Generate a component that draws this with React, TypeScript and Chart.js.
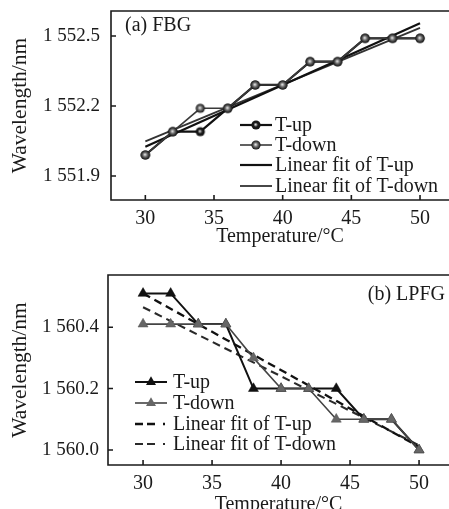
import React, { useEffect, useRef } from 'react';
import { Chart, registerables } from 'chart.js';
Chart.register(...registerables);

// ---------- data ----------
const temps = [30, 32, 34, 36, 38, 40, 42, 44, 46, 48, 50];
const fitTemps = [30, 50];
const xTicks = [30, 35, 40, 45, 50];

const fbgUp = [1551.99, 1552.09, 1552.09, 1552.19, 1552.29, 1552.29, 1552.39, 1552.39, 1552.49, 1552.49, 1552.49];
const fbgDown = [1551.99, 1552.09, 1552.19, 1552.19, 1552.29, 1552.29, 1552.39, 1552.39, 1552.49, 1552.49, 1552.49];
const fbgFitUp = [1552.025, 1552.555];
const fbgFitDown = [1552.048, 1552.535];
const fbgYTicks = [1551.9, 1552.2, 1552.5];

const lpfgUp = [1560.51, 1560.51, 1560.41, 1560.41, 1560.2, 1560.2, 1560.2, 1560.2, 1560.1, 1560.1, 1560.0];
const lpfgDown = [1560.41, 1560.41, 1560.41, 1560.41, 1560.3, 1560.2, 1560.2, 1560.1, 1560.1, 1560.1, 1560.0];
const lpfgFitUp = [1560.51, 1560.01];
const lpfgFitDown = [1560.465, 1560.015];
const lpfgYTicks = [1560.0, 1560.2, 1560.4];

const legendLabels = ['T-up', 'T-down', 'Linear fit of T-up', 'Linear fit of T-down'];

// ---------- styling ----------
const FONT = '"Liberation Serif", "Times New Roman", serif';
const INK = '#1a1a1a';
const FS = 20;
const FS_Y = 19;
const FS_YT = 21.5;

function sphere(inner: string, outer: string, r: number) {
  const c = document.createElement('canvas');
  const s = Math.ceil(r * 2 + 2);
  c.width = s; c.height = s;
  const ctx = c.getContext('2d')!;
  const cx = s / 2, cy = s / 2;
  const g = ctx.createRadialGradient(cx - r * 0.1, cy - r * 0.1, 0.3, cx, cy, r);
  g.addColorStop(0, inner);
  g.addColorStop(0.45, outer);
  g.addColorStop(1, '#111');
  ctx.fillStyle = g;
  ctx.beginPath();
  ctx.arc(cx, cy, r, 0, Math.PI * 2);
  ctx.fill();
  return c;
}

const pts = (xs: number[], ys: number[]) => xs.map((x, i) => ({ x, y: ys[i] }));
const fmtY = (v: number) => { const s = v.toFixed(1); return s[0] + ' ' + s.slice(1); };

function decoPlugin(o: any) {
  return {
    id: 'deco',
    afterDraw(chart: any) {
      const { ctx, chartArea: a, scales } = chart;
      const x = scales.x, y = scales.y;
      ctx.save();
      ctx.strokeStyle = INK;
      ctx.lineWidth = 1.6;
      ctx.beginPath();
      ctx.moveTo(a.right + 2, a.top);
      ctx.lineTo(a.left, a.top);
      ctx.lineTo(a.left, a.bottom);
      ctx.lineTo(a.right + 2, a.bottom);
      xTicks.forEach((v) => {
        const px = x.getPixelForValue(v);
        ctx.moveTo(px, a.bottom);
        ctx.lineTo(px, a.bottom - 5);
      });
      o.yTicks.forEach((v: number) => {
        const py = y.getPixelForValue(v);
        ctx.moveTo(a.left, py);
        ctx.lineTo(a.left + 5, py);
      });
      ctx.stroke();

      // panel label
      ctx.fillStyle = INK;
      ctx.font = `${FS}px ${FONT}`;
      ctx.textBaseline = 'middle';
      ctx.textAlign = o.label.align;
      ctx.fillText(o.label.text, o.label.x, o.label.y);

      // legend
      const ds = chart.data.datasets;
      o.legend.rows.forEach((ry: number, i: number) => {
        const d = ds[i];
        const x0 = o.legend.x0, x1 = o.legend.x1;
        ctx.save();
        ctx.strokeStyle = d.borderColor;
        ctx.lineWidth = d.borderWidth;
        ctx.setLineDash(d.legendDash || []);
        ctx.beginPath();
        ctx.moveTo(x0, ry);
        ctx.lineTo(x1, ry);
        ctx.stroke();
        ctx.restore();
        const mx = (x0 + x1) / 2;
        if (d.pointStyle instanceof HTMLCanvasElement) {
          const im = d.pointStyle;
          ctx.drawImage(im, mx - im.width / 2, ry - im.height / 2);
        } else if (d.pointStyle === 'triangle' && d.pointRadius > 0) {
          const r = d.pointRadius;
          ctx.fillStyle = d.pointBackgroundColor;
          ctx.beginPath();
          ctx.moveTo(mx, ry - r);
          ctx.lineTo(mx + r * 0.866, ry + r / 2);
          ctx.lineTo(mx - r * 0.866, ry + r / 2);
          ctx.closePath();
          ctx.fill();
        }
        ctx.fillStyle = INK;
        ctx.font = `${FS}px ${FONT}`;
        ctx.textAlign = 'left';
        ctx.textBaseline = 'middle';
        ctx.fillText(legendLabels[i], o.legend.tx, ry + 1);
      });
      ctx.restore();
    },
  };
}

function makeConfig(o: any): any {
  return {
    type: 'scatter',
    data: { datasets: o.datasets },
    options: {
      animation: false,
      responsive: false,
      devicePixelRatio: 1,
      layout: { autoPadding: false, padding: { left: 0, right: 0, top: o.padTop, bottom: 0 } },
      plugins: { legend: { display: false }, tooltip: { enabled: false } },
      scales: {
        x: {
          type: 'linear', min: o.xMin, max: o.xMax,
          afterBuildTicks: (s: any) => { s.ticks = xTicks.map((v) => ({ value: v })); },
          grid: { display: false, drawTicks: false },
          border: { display: false },
          ticks: { font: { family: FONT, size: FS }, color: INK, padding: o.xPad, maxRotation: 0, autoSkip: false },
          title: { display: true, text: 'Temperature/°C', color: INK, font: { family: FONT, size: FS, lineHeight: 1.2 }, padding: { top: 0, bottom: o.xTitlePad } },
          afterFit: (s: any) => { s.height = o.xHeight; s.paddingLeft = 0; s.paddingRight = 0; },
        },
        y: {
          type: 'linear', min: o.yMin, max: o.yMax,
          afterBuildTicks: (s: any) => { s.ticks = o.yTicks.map((v: number) => ({ value: v })); },
          grid: { display: false, drawTicks: false },
          border: { display: false },
          ticks: { font: { family: FONT, size: FS_Y }, color: INK, padding: o.yPad, autoSkip: false, callback: (v: number) => fmtY(v) },
          title: { display: true, text: 'Wavelength/nm', color: INK, font: { family: FONT, size: FS_YT, lineHeight: 1.2 }, padding: { top: 7, bottom: 0 } },
          afterFit: (s: any) => { s.width = o.yWidth; s.paddingTop = 0; s.paddingBottom = 0; },
        },
      },
    },
    plugins: [decoPlugin(o)],
  };
}

function ChartCanvas({ cfg, width, height }: { cfg: () => any; width: number; height: number }) {
  const ref = useRef<HTMLCanvasElement | null>(null);
  useEffect(() => {
    const c = new Chart(ref.current!, cfg());
    return () => c.destroy();
  }, []);
  return <canvas ref={ref} width={width} height={height} style={{ display: 'block', width, height }} />;
}

function fbgConfig() {
  const upImg = sphere('#d8d8d8', '#1a1a1a', 4.6);
  const downImg = sphere('#e4e4e4', '#6a6a6a', 4.6);
  const datasets = [
    { data: pts(temps, fbgUp), showLine: true, borderColor: '#111', borderWidth: 2.2, pointStyle: upImg, pointRadius: 5, order: 1 },
    { data: pts(temps, fbgDown), showLine: true, borderColor: '#3a3a3a', borderWidth: 1.6, pointStyle: downImg, pointRadius: 5, order: 0 },
    { data: pts(fitTemps, fbgFitUp), showLine: true, borderColor: '#111', borderWidth: 2.2, pointRadius: 0, order: 2 },
    { data: pts(fitTemps, fbgFitDown), showLine: true, borderColor: '#333', borderWidth: 1.8, pointRadius: 0, order: 3 },
  ];
  return makeConfig({
    datasets, padTop: 11, xMin: 27.5, xMax: 52.11, yMin: 1551.797, yMax: 1552.607,
    yTicks: fbgYTicks, xPad: 7, xTitlePad: 1, xHeight: 50, yPad: 11, yWidth: 111,
    label: { text: '(a) FBG', x: 125, y: 26, align: 'left' },
    legend: { rows: [125, 145, 165, 186], x0: 240, x1: 272, tx: 275 },
  });
}

function lpfgConfig() {
  const datasets = [
    { data: pts(temps, lpfgUp), showLine: true, borderColor: '#111', borderWidth: 2, pointStyle: 'triangle', pointRadius: 5.8, pointBackgroundColor: '#111', pointBorderColor: '#111', pointBorderWidth: 0.5, order: 1 },
    { data: pts(temps, lpfgDown), showLine: true, borderColor: '#444', borderWidth: 1.6, pointStyle: 'triangle', pointRadius: 5.8, pointBackgroundColor: '#666', pointBorderColor: '#555', pointBorderWidth: 0.5, order: 0 },
    { data: pts(fitTemps, lpfgFitUp), showLine: true, borderColor: '#111', borderWidth: 2.3, borderDash: [8, 5], legendDash: [8, 4, 8, 8, 2, 40], pointRadius: 0, order: 2 },
    { data: pts(fitTemps, lpfgFitDown), showLine: true, borderColor: '#2a2a2a', borderWidth: 2.1, borderDash: [8, 5], legendDash: [8, 4, 8, 8, 2, 40], pointRadius: 0, order: 3 },
  ];
  return makeConfig({
    datasets, padTop: 25, xMin: 27.46, xMax: 52.17, yMin: 1559.951, yMax: 1560.57,
    yTicks: lpfgYTicks, xPad: 7, xTitlePad: 3, xHeight: 55, yPad: 9, yWidth: 108,
    label: { text: '(b) LPFG', x: 445, y: 45, align: 'right' },
    legend: { rows: [132, 153, 174, 194], x0: 135, x1: 167, tx: 173 },
  });
}

export default function App() {
  return (
    <div style={{ position: 'absolute', left: 0, top: 0, width: 449, height: 509, overflow: 'hidden', background: '#fff' }}>
      <ChartCanvas cfg={fbgConfig} width={449} height={250} />
      <ChartCanvas cfg={lpfgConfig} width={449} height={270} />
    </div>
  );
}
